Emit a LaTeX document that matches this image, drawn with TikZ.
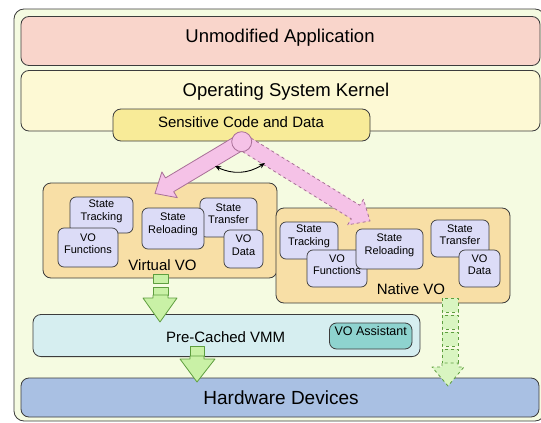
\documentclass[tikz,border=0pt]{standalone}
\usepackage{fontspec}
\setmainfont{Liberation Sans}
\usepackage{tikz}
\usetikzlibrary{positioning,calc,fit,arrows.meta}
\usepackage{xcolor}

\definecolor{edge}{HTML}{3C3C3C}
\definecolor{bgfill}{HTML}{F5FBE1}
\definecolor{appfill}{HTML}{F9D5CB}
\definecolor{kernfill}{HTML}{FDF9D4}
\definecolor{sensfill}{HTML}{F8EB98}
\definecolor{vofill}{HTML}{F8DFA6}
\definecolor{subfill}{HTML}{DCDCF7}
\definecolor{vmmfill}{HTML}{D6EEF0}
\definecolor{assistfill}{HTML}{8ED3CF}
\definecolor{hwfill}{HTML}{A9C0E3}
\definecolor{pinkfill}{HTML}{F5C2E7}
\definecolor{pinkedge}{HTML}{A86F97}
\definecolor{greenfill}{HTML}{C9F1A6}
\definecolor{greenedge}{HTML}{5E9E3F}

% fat block arrow: [style]{from}{tip}
\newcommand{\fatarrow}[3][]{%
	\coordinate (fa-h) at ($(#3)!17pt!(#2)$);
	\draw[#1] ($(#2)!8pt!90:(#3)$) -- ($(fa-h)!8pt!-90:(#2)$) -- ($(fa-h)!15pt!-90:(#2)$) -- (#3)
		-- ($(fa-h)!15pt!90:(#2)$) -- ($(fa-h)!8pt!90:(#2)$) -- ($(#2)!8pt!-90:(#3)$) -- cycle;
}

\begin{document}
\begin{tikzpicture}[x=1pt,y=-1pt,every node/.style={inner sep=0pt},
	tier/.style={draw=edge,line width=0.8pt,rounded corners=8pt},
	subbox/.style={draw=edge,line width=0.7pt,rounded corners=6pt,fill=subfill,align=center,font=\fontsize{11}{12.8}\selectfont},
	biglabel/.style={font=\fontsize{18.5}{22}\selectfont},
	midlabel/.style={font=\fontsize{15}{18}\selectfont},
	pinkarrow/.style={draw=pinkedge,fill=pinkfill,line width=0.8pt,line join=round},
	greenarrow/.style={draw=greenedge,fill=greenfill,line width=0.8pt,line join=round}]
	\useasboundingbox (0,0) rectangle (541,423);
	\node[tier,rounded corners=10pt,fill=bgfill,fit={(14,9) (545,421)}] (frame) {};

	% software stack
	\node[tier,fill=appfill,fit={(21,16.5) (540,65.5)}] (app) {};
	\node[biglabel,anchor=base] (apptext) at (280,42) {Unmodified Application};
	\node[tier,fill=kernfill,fit={(21,70.5) (540,131)}] (kernel) {};
	\node[biglabel,anchor=base] (kerntext) at (286,96.5) {Operating System Kernel};
	\node[tier,fill=sensfill,fit={(113,109) (370,141)}] (sens) {};
	\node[midlabel,anchor=base] (senstext) at (241,127.5) {Sensitive Code and Data};

	% virtual VO
	\node[tier,fill=vofill,fit={(43,183) (277,278)}] (vvo) {};
	\node[midlabel,above=8pt of vvo.south,xshift=2.5pt] (vvotext) {Virtual VO};
	\node[subbox,fit={(70,197) (133,233)}] (vtrack) {State\\Tracking};
	\node[subbox,fit={(58,228) (118,267)}] (vfunc) {VO\\Functions};
	\node[subbox,fit={(200,198) (257,237)}] (vtrans) {State\\Transfer};
	\node[subbox,fit={(224,230) (263,268)}] (vdata) {VO\\Data};
	\node[subbox,fit={(142,208) (204,249)}] (vreload) {State\\Reloading};

	% native VO
	\node[tier,fill=vofill,fit={(276,208) (510,303)}] (nvo) {};
	\node[midlabel,above=8.5pt of nvo.south,xshift=18pt] (nvotext) {Native VO};
	\node[subbox,fit={(280,222) (338,259)}] (ntrack) {State\\Tracking};
	\node[subbox,fit={(307,250) (367,287)}] (nfunc) {VO\\Functions};
	\node[subbox,fit={(356,229) (423,269)}] (nreload) {State\\Reloading};
	\node[subbox,fit={(431,220) (489,257)}] (ntrans) {State\\Transfer};
	\node[subbox,fit={(459,250) (500,287)}] (ndata) {VO\\Data};

	% VMM and hardware
	\node[tier,fill=vmmfill,fit={(33,314.5) (420,356.6)}] (vmm) {};
	\node[midlabel,anchor=base] (vmmtext) at (225.6,342) {Pre-Cached VMM};
	\node[tier,rounded corners=7pt,fill=assistfill,fit={(329.5,323) (412,349)},font=\fontsize{12.5}{15}\selectfont] (assist) {VO Assistant};
	\node[tier,fill=hwfill,fit={(21,378) (539,417)}] (hw) {};
	\node[biglabel,font=\fontsize{19}{22}\selectfont] (hwtext) at (281,397.5) {Hardware Devices};

	% switch between the two VOs
	\coordinate (hubc) at (241.7,141.7);
	\coordinate (vtip) at (155,193.5);
	\coordinate (ntip) at (370,221);
	\fatarrow[pinkarrow]{hubc}{vtip}
	\fatarrow[pinkarrow,dashed]{hubc}{ntip}
	\node[circle,draw=pinkedge,fill=pinkfill,line width=0.8pt,minimum size=20pt] (hub) at (hubc) {};
	\coordinate (swl) at (215,166);
	\coordinate (swr) at (265,163);
	\draw[{Stealth[length=6pt,width=5pt]}-{Stealth[length=6pt,width=5pt]},line width=0.9pt] (swl) to[bend right=30] (swr);

	% green data paths
	\draw[greenarrow] (153,274) rectangle (168,283);
	\draw[greenarrow] (153,287) rectangle (168,295);
	\draw[greenarrow] (153,295) -- (153,298) -- (143,298) -- (160,322) -- (177,298) -- (168,298) -- (168,295) -- cycle;
	\draw[greenarrow] (190,346) rectangle (204,356);
	\draw[greenarrow] (190,356) -- (190,359) -- (180,359) -- (197,382) -- (215,359) -- (204,359) -- (204,356) -- cycle;
	\foreach \y in {298,315,332,349}
		\draw[greenarrow,dashed,fill=greenfill!70] (442,\y) rectangle (458,\y+14);
	\draw[greenarrow,dashed,fill=greenfill!70] (442,363) -- (442,367) -- (432,367) -- (448,386) -- (464,367) -- (458,367) -- (458,363) -- cycle;
\end{tikzpicture}
\end{document}
